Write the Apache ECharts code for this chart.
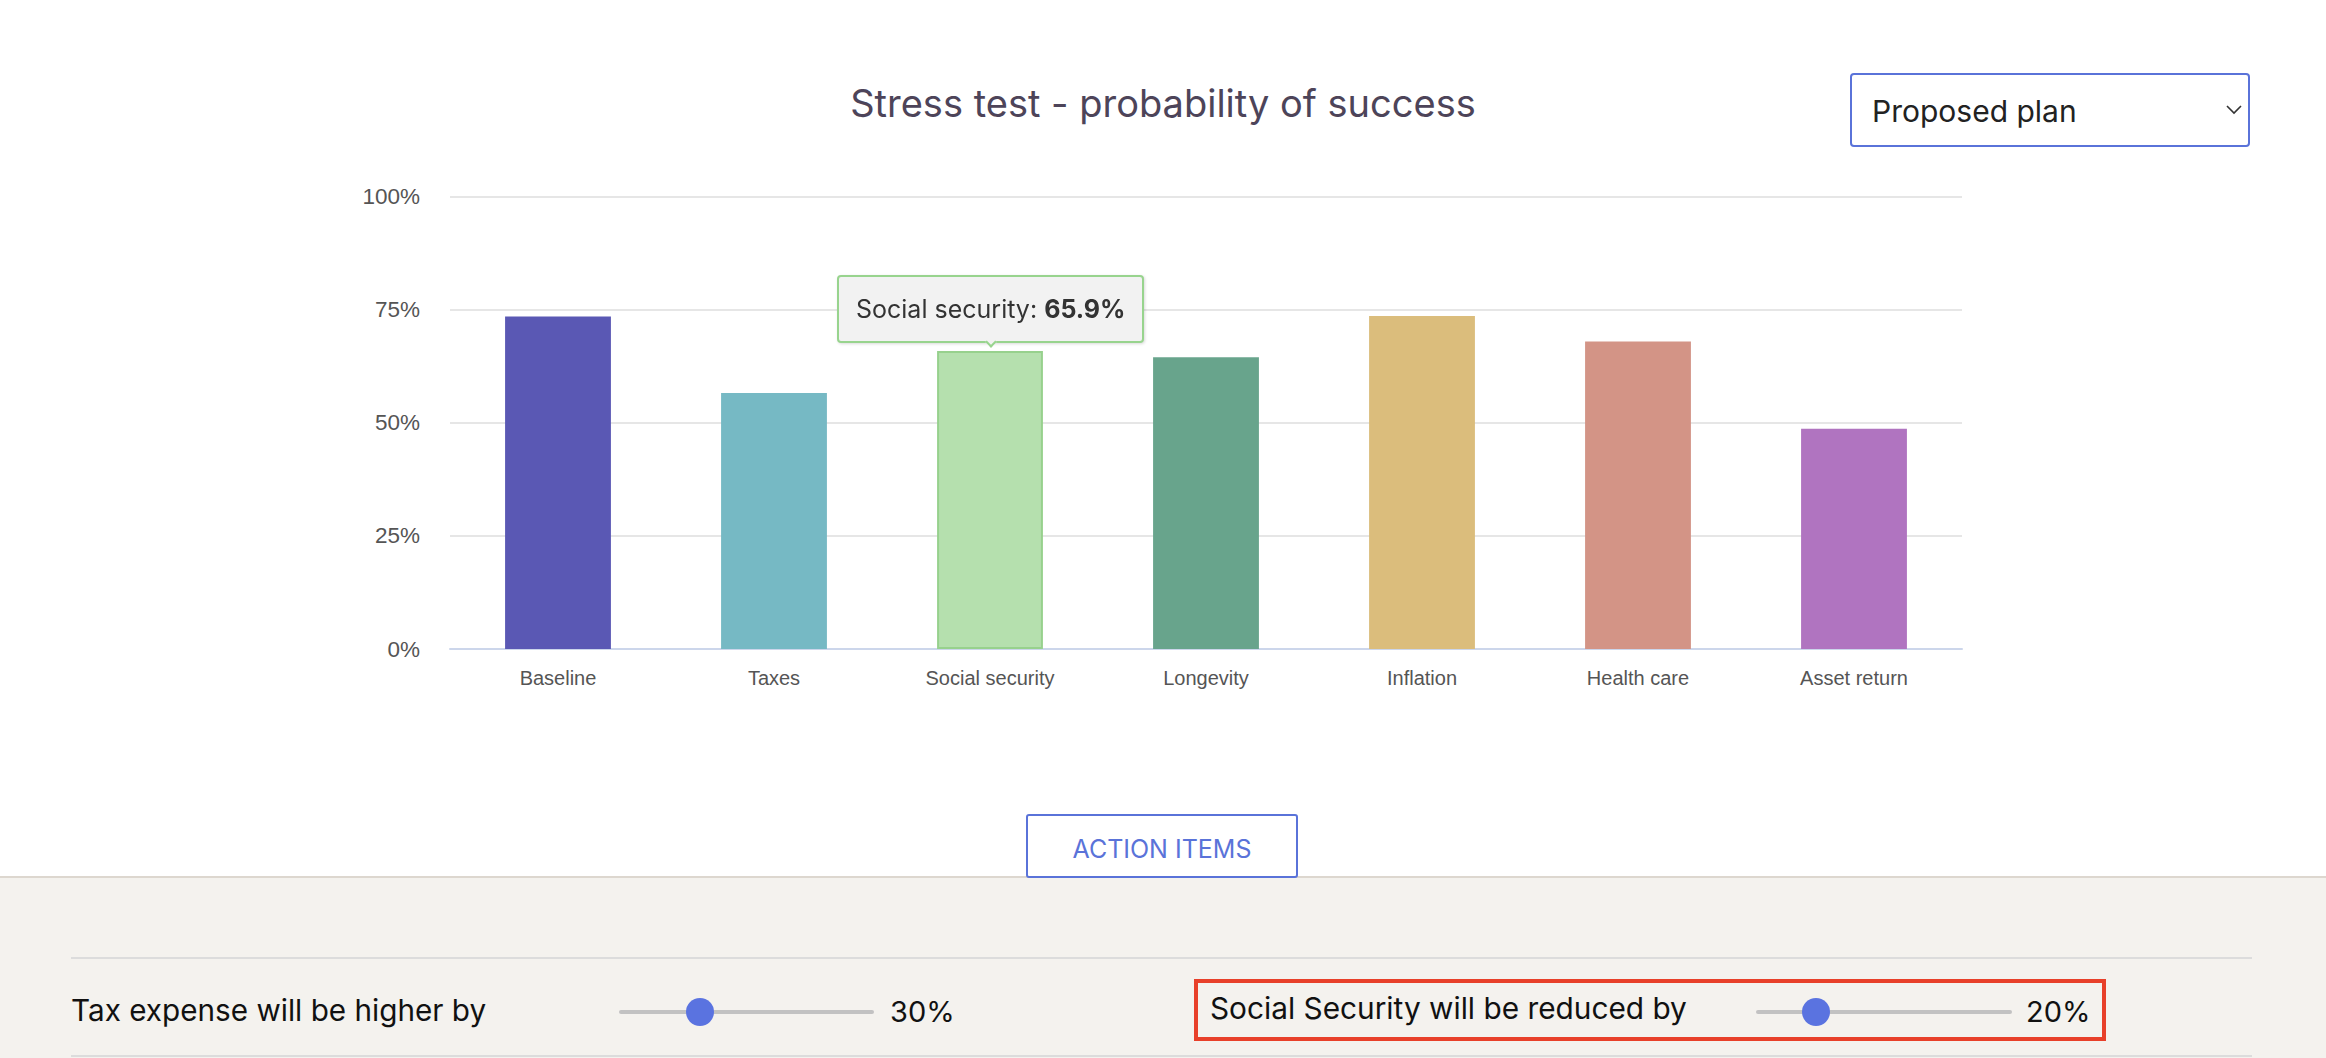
<!DOCTYPE html>
<html>
<head>
<meta charset="utf-8">
<script src="https://cdn.jsdelivr.net/npm/echarts@6/dist/echarts.min.js"></script>
<style>
  html, body { margin: 0; padding: 0; background: #ffffff; }
  body { width: 2326px; height: 1058px; position: relative; overflow: hidden; font-family: Inter, "Liberation Sans", sans-serif; }
  #chart { position: absolute; left: 0; top: 0; width: 2326px; height: 877px; }
  .ui { position: absolute; box-sizing: border-box; }
  #plan { left: 1850px; top: 73px; width: 400px; height: 74px; border: 2px solid #5a73d9; border-radius: 4px; background: #fff; z-index: 5; }
  #plan span { position: absolute; left: 20px; top: 1px; line-height: 70px; font-size: 30px; color: #222; }
  #plan svg { position: absolute; right: 6px; top: 30px; }
  #action { left: 1026px; top: 814px; width: 272px; height: 64px; border: 2px solid #5a73d9; border-radius: 3px; background: #fff; color: #5a73d9; font-size: 25px; text-align: center; line-height: 66px; z-index: 6; }
  #panel { left: 0; top: 876px; width: 2326px; height: 182px; background: #f4f2ee; border-top: 2px solid #ddd7cf; z-index: 4; }
  .hline { position: absolute; left: 71px; width: 2181px; height: 2px; background: #dcdcdc; z-index: 5; }
  .label { position: absolute; font-size: 30px; color: #111; z-index: 7; line-height: 40px; white-space: nowrap; }
  .track { position: absolute; height: 4px; background: #c2c2c2; border-radius: 2px; z-index: 7; }
  .thumb { position: absolute; width: 28px; height: 28px; border-radius: 50%; background: #5a73e0; z-index: 8; }
  #redbox { left: 1194px; top: 979px; width: 912px; height: 62px; border: 4px solid #e8402a; z-index: 7; }
</style>
</head>
<body>
<div id="chart"></div>

<div id="plan" class="ui"><span>Proposed plan</span>
  <svg width="16" height="10" viewBox="0 0 16 10"><polyline points="1,1 8,8 15,1" fill="none" stroke="#333" stroke-width="1.6"/></svg>
</div>
<div id="action" class="ui">ACTION ITEMS</div>
<div id="panel" class="ui"></div>
<div class="hline" style="top:957px"></div>
<div class="hline" style="top:1055px"></div>
<div class="label" style="left:71px; top:990px; font-size:29.7px">Tax expense will be higher by</div>
<div class="track" style="left:619px; width:255px; top:1010px"></div>
<div class="thumb" style="left:686px; top:998px"></div>
<div class="label" style="left:890px; top:992px; font-size:29px">30%</div>
<div id="redbox" class="ui"></div>
<div class="label" style="left:1210px; top:988px; font-size:29.8px">Social Security will be reduced by</div>
<div class="track" style="left:1756px; width:256px; top:1010px"></div>
<div class="thumb" style="left:1802px; top:998px"></div>
<div class="label" style="left:2026px; top:992px; font-size:29px">20%</div>

<script>
const categories = ['Baseline', 'Taxes', 'Social security', 'Longevity', 'Inflation', 'Health care', 'Asset return'];
const values = [73.5, 56.6, 65.9, 64.5, 73.6, 68.0, 48.7];
const barColors = ['#5a58b4', '#76b9c4', '#b5e0ae', '#68a48c', '#dbbd7c', '#d39486', '#b074c0'];
const yTicks = [0, 25, 50, 75, 100];
const highlightIndex = 2;

const chart = echarts.init(document.getElementById('chart'), null, { renderer: 'svg' });

const data = values.map((v, i) => ({
  value: v,
  itemStyle: i === highlightIndex
    ? { color: barColors[i], borderColor: '#97d18d', borderWidth: 2 }
    : { color: barColors[i] }
}));

chart.setOption({
  animation: false,
  title: {
    text: 'Stress test - probability of success',
    left: 'center',
    top: 79,
    textStyle: { fontFamily: 'Inter', fontSize: 38, fontWeight: 'normal', color: '#4d4459' }
  },
  grid: { left: 450, right: 364, top: 196.7, bottom: 228 },
  tooltip: {
    trigger: 'item',
    triggerOn: 'none',
    alwaysShowContent: true,
    position: 'top',
    transitionDuration: 0,
    backgroundColor: '#f2f2f2',
    borderColor: '#98d48e',
    borderWidth: 2,
    padding: [13, 17],
    textStyle: { fontFamily: 'Inter', fontSize: 25, color: '#333' },
    extraCssText: 'border-radius:4px; margin-top:3px; box-shadow: 1px 1px 3px rgba(0,0,0,0.15);',
    formatter: p => p.name + ': <b>' + p.value + '%</b>'
  },
  xAxis: {
    type: 'category',
    data: categories,
    axisLine: { lineStyle: { color: '#ccd6eb', width: 2 } },
    axisTick: { show: false },
    axisLabel: { fontFamily: 'Liberation Sans', fontSize: 20, color: '#555', margin: 19 }
  },
  yAxis: {
    type: 'value',
    min: yTicks[0],
    max: yTicks[yTicks.length - 1],
    interval: 25,
    axisLabel: { fontFamily: 'Liberation Sans', fontSize: 22.5, color: '#555', margin: 30, formatter: '{value}%' },
    splitLine: { lineStyle: { color: '#e6e6e6', width: 2 } },
    axisLine: { show: false },
    axisTick: { show: false }
  },
  series: [{
    type: 'bar',
    data: data,
    barWidth: '49%',
    emphasis: { disabled: true }
  }]
});

setTimeout(() => chart.dispatchAction({ type: 'showTip', seriesIndex: 0, dataIndex: highlightIndex }), 50);
</script>
</body>
</html>
